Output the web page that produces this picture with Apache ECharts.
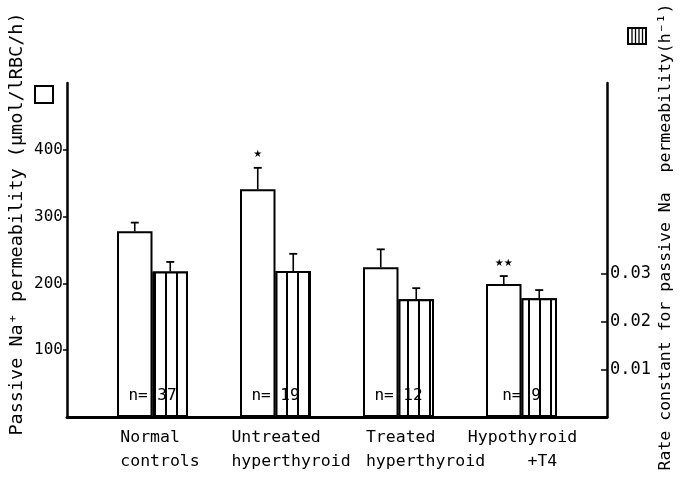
<!DOCTYPE html>
<html><head><meta charset="utf-8">
<script src="https://cdn.jsdelivr.net/npm/echarts@6/dist/echarts.min.js"></script>
<style>html,body{margin:0;padding:0;background:#fff}#c{width:690px;height:492px}</style>
</head><body><div id="c"></div>
<script>
// ---- data ----
const categories = ['Normal\ncontrols', 'Untreated\nhyperthyroid', 'Treated\nhyperthyroid', 'Hypothyroid\n      +T4'];
const naPermeability = [278, 341, 224, 199];          // µmol/lRBC/h (left axis)
const naPermeabilityErr = [13, 32, 27, 12];
const rateConstant = [0.0305, 0.0306, 0.0247, 0.0249]; // h^-1 (right axis)
const rateConstantErr = [0.0020, 0.0036, 0.0023, 0.0017];
const nValues = [37, 19, 12, 9];
const significance = ['', '★', '', '★★'];
const leftTicks = [100, 200, 300, 400];
const rightTicks = [0.01, 0.02, 0.03];

// ---- style ----
const FONT = 'DejaVu Sans Mono';
const BAR_W = 35.5;
const LABEL_PAD = [15, 31, 54, 2]; // left padding per category label (layout only)

const chart = echarts.init(document.getElementById('c'));

function errRender(side, showSig) {
  return function (params, api) {
    const cat = api.value(0), v = api.value(1), e = api.value(2);
    const p0 = api.coord([cat, v]);
    const p1 = api.coord([cat, v + e]);
    const x = p0[0] + side * BAR_W / 2;
    const children = [
      { type: 'line', shape: { x1: x, y1: p0[1], x2: x, y2: p1[1] }, style: { stroke: '#000', lineWidth: 1.6 } },
      { type: 'line', shape: { x1: x - 4, y1: p1[1], x2: x + 4, y2: p1[1] }, style: { stroke: '#000', lineWidth: 1.8 } }
    ];
    if (showSig && significance[cat]) {
      children.push({ type: 'text', x: x, y: p1[1] - 8,
        style: { text: significance[cat], fill: '#000', font: '10px DejaVu Sans', textAlign: 'center', textVerticalAlign: 'bottom' } });
    }
    return { type: 'group', children };
  };
}

const stripeDecal = { symbol: 'rect', symbolSize: 1, color: '#000', backgroundColor: '#fff', dashArrayX: [1.3, 8.7], dashArrayY: [5, 0], rotation: 0 };

const rich = {};
LABEL_PAD.forEach((p, i) => {
  rich['c' + i] = { fontFamily: FONT, fontSize: 16.5, lineHeight: 24, color: '#000', align: 'left', padding: [0, 0, 0, p] };
});

chart.setOption({
  animation: false,
  backgroundColor: '#fff',
  grid: [
    { left: 67, right: 83, top: 83, bottom: 75 },
    { left: 91, width: 492, top: 83, bottom: 75 }
  ],
  xAxis: [
    { gridIndex: 0, type: 'value', min: 0, max: 1,
      axisLine: { show: true, onZero: false, lineStyle: { color: '#000', width: 3 } },
      axisTick: { show: false }, axisLabel: { show: false }, splitLine: { show: false } },
    { gridIndex: 1, type: 'category', data: categories,
      axisLine: { show: false }, axisTick: { show: false },
      axisLabel: { color: '#000', fontFamily: FONT, fontSize: 16.5, lineHeight: 24, margin: 9, interval: 0,
        formatter: (val, idx) => val.split('\n').map(s => '{c' + idx + '|' + s + '}').join('\n'),
        rich: rich } }
  ],
  yAxis: [
    { gridIndex: 0, type: 'value', min: 0, max: 500, position: 'left',
      axisLine: { show: true, lineStyle: { color: '#000', width: 2.5 } },
      axisTick: { show: true, customValues: leftTicks, length: 4, lineStyle: { color: '#000', width: 1.5 } },
      axisLabel: { customValues: leftTicks, color: '#000', fontFamily: FONT, fontSize: 16, margin: 4 },
      splitLine: { show: false } },
    { gridIndex: 0, type: 'value', min: 0, max: 0.07, position: 'right',
      axisLine: { show: true, lineStyle: { color: '#000', width: 2.5 } },
      axisTick: { show: true, inside: true, customValues: rightTicks, length: 6, lineStyle: { color: '#000', width: 1.5 } },
      axisLabel: { customValues: rightTicks, color: '#000', fontFamily: FONT, fontSize: 17, margin: 3,
        formatter: v => v.toFixed(2) },
      splitLine: { show: false } },
    { gridIndex: 1, type: 'value', min: 0, max: 500, show: false, splitLine: { show: false } },
    { gridIndex: 1, type: 'value', min: 0, max: 0.07, show: false, splitLine: { show: false } }
  ],
  series: [
    { name: 'Passive Na+ permeability', type: 'bar', xAxisIndex: 1, yAxisIndex: 2, data: naPermeability,
      barWidth: BAR_W, barGap: '0%',
      itemStyle: { color: '#fff', borderColor: '#000', borderWidth: 2 } },
    { name: 'Rate constant', type: 'bar', xAxisIndex: 1, yAxisIndex: 3, data: rateConstant,
      barWidth: BAR_W, barGap: '0%',
      itemStyle: { color: '#fff', borderColor: '#000', borderWidth: 2, decal: stripeDecal } },
    { type: 'custom', xAxisIndex: 1, yAxisIndex: 2, z: 5,
      data: naPermeability.map((v, i) => [i, v, naPermeabilityErr[i]]),
      renderItem: errRender(-1, true) },
    { type: 'custom', xAxisIndex: 1, yAxisIndex: 3, z: 5,
      data: rateConstant.map((v, i) => [i, v, rateConstantErr[i]]),
      renderItem: errRender(1, false) },
    { type: 'custom', xAxisIndex: 1, yAxisIndex: 2, z: 6,
      data: nValues.map((n, i) => [i, 0, n]),
      renderItem: function (params, api) {
        const p = api.coord([api.value(0), 0]);
        return { type: 'text', x: p[0], y: p[1] - 21,
          style: { text: 'n= ' + api.value(2), fill: '#000', font: '16px ' + FONT, textAlign: 'center', textVerticalAlign: 'middle' } };
      } }
  ],
  graphic: [
    { type: 'text', x: 17, y: 224, rotation: Math.PI / 2,
      style: { text: 'Passive Na⁺ permeability (µmol/lRBC/h)', fill: '#000', font: '18.5px ' + FONT, textAlign: 'center', textVerticalAlign: 'middle' } },
    { type: 'text', x: 666, y: 237, rotation: Math.PI / 2,
      style: { text: 'Rate constant for passive Na  permeability(h⁻¹)', fill: '#000', font: '16.5px ' + FONT, textAlign: 'center', textVerticalAlign: 'middle' } },
    { type: 'rect', shape: { x: 35, y: 86, width: 18, height: 17 }, style: { fill: '#fff', stroke: '#000', lineWidth: 2 } },
    { type: 'group', x: 628, y: 28, children: [
      { type: 'rect', shape: { x: 0, y: 0, width: 18, height: 16 }, style: { fill: '#fff', stroke: '#000', lineWidth: 2 } },
      { type: 'line', shape: { x1: 4, y1: 0, x2: 4, y2: 16 }, style: { stroke: '#000', lineWidth: 1.3 } },
      { type: 'line', shape: { x1: 7.5, y1: 0, x2: 7.5, y2: 16 }, style: { stroke: '#000', lineWidth: 1.3 } },
      { type: 'line', shape: { x1: 11, y1: 0, x2: 11, y2: 16 }, style: { stroke: '#000', lineWidth: 1.3 } },
      { type: 'line', shape: { x1: 14.5, y1: 0, x2: 14.5, y2: 16 }, style: { stroke: '#000', lineWidth: 1.3 } }
    ] }
  ]
});
</script>
</body></html>
